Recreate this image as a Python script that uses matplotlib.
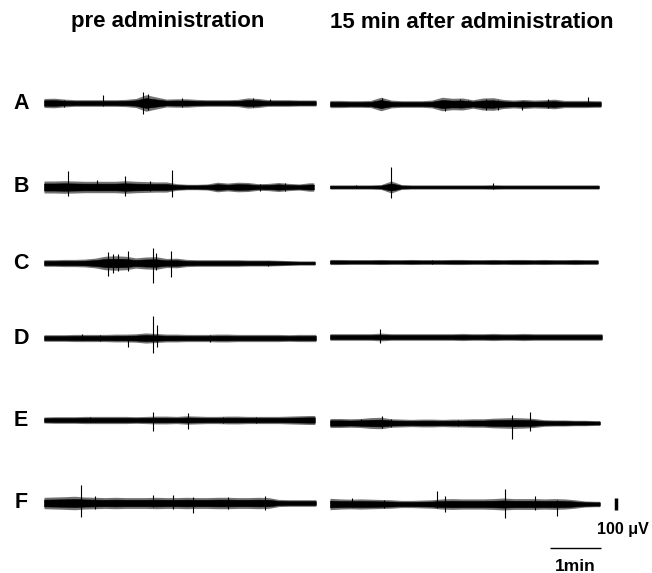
import numpy as np
import matplotlib

matplotlib.use("Agg")
import matplotlib.pyplot as plt

plt.rcParams["font.family"] = ["Liberation Sans", "DejaVu Sans"]

# trace labels and column headings
rows = ["A", "B", "C", "D", "E", "F"]
columns = ["pre administration", "15 min after administration"]

# half-width of the EMG band (uV), read every 0.2 min
step_min = 0.2
env_a_pre = [30, 32, 26, 22, 22, 22, 22, 22, 24, 30, 55, 40, 26, 28, 28, 24, 22, 22, 22, 24, 34, 30, 22, 22, 22, 20, 20]
env_a_post = [24, 24, 22, 22, 24, 45, 26, 22, 22, 22, 26, 45, 38, 40, 28, 40, 42, 30, 26, 30, 26, 28, 32, 24, 24, 24, 22]
env_b_pre = [40, 40, 42, 40, 38, 38, 38, 38, 42, 38, 36, 34, 34, 22, 18, 18, 20, 32, 26, 32, 30, 22, 24, 30, 24, 20, 28]
env_b_post = [14, 14, 14, 14, 14, 16, 40, 16, 14, 14, 14, 14, 14, 14, 14, 14, 15, 14, 14, 14, 14, 14, 14, 14, 14, 14, 14]
env_c_pre = [22, 22, 24, 24, 26, 32, 45, 48, 45, 34, 40, 42, 30, 32, 24, 22, 22, 22, 22, 22, 20, 20, 20, 18, 16, 14, 14]
env_c_post = [17, 17, 16, 16, 16, 17, 16, 16, 17, 16, 16, 16, 17, 17, 16, 16, 17, 16, 17, 17, 16, 17, 16, 16, 17, 16, 16]
env_d_pre = [22, 22, 22, 24, 24, 24, 24, 26, 26, 28, 34, 30, 26, 26, 24, 24, 24, 26, 26, 24, 24, 24, 24, 24, 22, 24, 24]
env_d_post = [22, 22, 22, 22, 22, 26, 22, 22, 22, 22, 22, 22, 22, 24, 22, 22, 24, 22, 22, 24, 22, 22, 22, 22, 22, 22, 22]
env_e_pre = [20, 22, 22, 22, 24, 24, 24, 24, 24, 22, 24, 26, 26, 24, 28, 26, 24, 24, 26, 26, 24, 24, 24, 24, 26, 28, 30]
env_e_post = [30, 30, 28, 30, 36, 38, 28, 26, 24, 26, 26, 24, 26, 26, 28, 28, 32, 34, 36, 34, 30, 22, 20, 20, 18, 18, 16]
env_f_pre = [38, 40, 42, 45, 40, 38, 36, 38, 36, 36, 36, 38, 36, 36, 38, 36, 36, 38, 38, 36, 36, 38, 36, 24, 22, 22, 22]
env_f_post = [38, 34, 32, 34, 32, 30, 28, 24, 24, 26, 28, 34, 36, 34, 34, 34, 36, 40, 36, 36, 36, 34, 36, 34, 28, 20, 18]

# single spikes: (time min, up uV, down uV)
spk_a_pre = [(0.39, 25, 40), (1.16, 70, 30), (1.94, 100, 100), (2.04, 80, 60), (2.7, 45, 35), (4.1, 45, 35), (4.43, 40, 20)]
spk_a_post = [(1.02, 50, 40), (2.25, 40, 60), (2.55, 45, 40), (2.7, 40, 20), (3.06, 45, 50), (3.3, 40, 50),
              (3.76, 30, 50), (4.27, 45, 40), (5.06, 60, 20)]
spk_b_pre = [(0.47, 140, 80), (1.04, 60, 30), (1.59, 100, 80), (2.08, 50, 40), (2.51, 150, 90), (4.24, 30, 40), (4.73, 35, 35)]
spk_b_post = [(0.5, 20, 10), (1.2, 180, 100), (3.2, 35, 15)]
spk_c_pre = [(1.25, 100, 115), (1.35, 80, 90), (1.45, 80, 70), (1.65, 110, 70), (2.14, 135, 180), (2.2, 90, 60),
             (2.49, 110, 130), (4.4, 20, 30)]
spk_c_post = [(2.0, 22, 20)]
spk_d_pre = [(0.75, 40, 20), (1.1, 30, 30), (1.65, 20, 80), (2.14, 200, 135), (2.22, 115, 80), (3.25, 30, 35)]
spk_d_post = [(0.98, 70, 50)]
spk_e_pre = [(0.9, 30, 20), (2.14, 75, 100), (2.82, 65, 80), (3.5, 30, 25), (4.15, 30, 25)]
spk_e_post = [(0.6, 35, 30), (1.02, 60, 45), (1.2, 40, 40), (2.5, 30, 25), (3.57, 75, 145), (3.92, 100, 75)]
spk_f_pre = [(0.73, 160, 130), (1.0, 60, 50), (2.14, 70, 40), (2.53, 70, 50), (2.92, 50, 90), (3.6, 50, 50), (4.34, 65, 65)]
spk_f_post = [(0.43, 55, 30), (1.05, 40, 40), (2.1, 115, 40), (2.25, 70, 70), (3.43, 135, 125), (4.02, 70, 50), (4.45, 40, 110)]

# recording length of each trace (min)
dur_pre = [5.33, 5.29, 5.31, 5.33, 5.31, 5.33]
dur_post = [5.31, 5.27, 5.25, 5.33, 5.29, 5.29]

env_pre = [env_a_pre, env_b_pre, env_c_pre, env_d_pre, env_e_pre, env_f_pre]
env_post = [env_a_post, env_b_post, env_c_post, env_d_post, env_e_post, env_f_post]
spk_pre = [spk_a_pre, spk_b_pre, spk_c_pre, spk_d_pre, spk_e_pre, spk_f_pre]
spk_post = [spk_a_post, spk_b_post, spk_c_post, spk_d_post, spk_e_post, spk_f_post]

# layout in pixels
W, H = 652, 573
px_per_min = 51.0
uv_per_px = 9.0
ylim = 300
x0 = [44, 330]
cy_pre = [103, 187, 263, 338, 420, 503]
cy_post = [104, 187, 262, 337, 423, 504]

fig = plt.figure(figsize=(W / 100, H / 100), dpi=100)


def trace_axes(left, cy):
    w = 5.8 * px_per_min
    h = 2 * ylim / uv_per_px
    ax = fig.add_axes([left / W, 1 - (cy + h / 2) / H, w / W, h / H])
    ax.set_xlim(0, 5.8)
    ax.set_ylim(-ylim, ylim)
    ax.set_axis_off()
    return ax


def draw_trace(ax, env, spikes, dur):
    grid = np.arange(len(env)) * step_min
    t = np.linspace(0, dur, 800)
    e = np.interp(t, grid, env)
    # grey fuzz around a solid core, like a dense ink trace
    ax.fill_between(t, -1.35 * e, 1.35 * e, color="0.45", lw=0)
    ax.fill_between(t, -0.8 * e, 0.8 * e, color="black", lw=0.4)
    for ts, up, dn in spikes:
        ax.vlines(ts, -dn, up, color="black", lw=0.8)


last_ax = None
for i, r in enumerate(rows):
    ax = trace_axes(x0[0], cy_pre[i])
    draw_trace(ax, env_pre[i], spk_pre[i], dur_pre[i])
    ax = trace_axes(x0[1], cy_post[i])
    draw_trace(ax, env_post[i], spk_post[i], dur_post[i])
    last_ax = ax
    fig.text(21 / W, 1 - cy_pre[i] / H, r, fontsize=15.5, fontweight="bold", ha="center", va="center")

fig.text(168 / W, 1 - 22 / H, columns[0], fontsize=16, fontweight="bold", ha="center", va="center")
fig.text(472 / W, 1 - 22 / H, columns[1], fontsize=16, fontweight="bold", ha="center", va="center")

# scale bars: 100 uV and 1 min
last_ax.vlines(5.61, -50, 50, color="black", lw=2.5, clip_on=False)
last_ax.text(5.75, -230, "100 \u03bcV", fontsize=11.5, fontweight="bold", ha="center", va="center")
last_ax.hlines(-400, 4.31, 5.31, color="black", lw=1.0, clip_on=False)
last_ax.text(4.81, -565, "1min", fontsize=12.5, fontweight="bold", ha="center", va="center")

fig.savefig("out.png", dpi=100)
